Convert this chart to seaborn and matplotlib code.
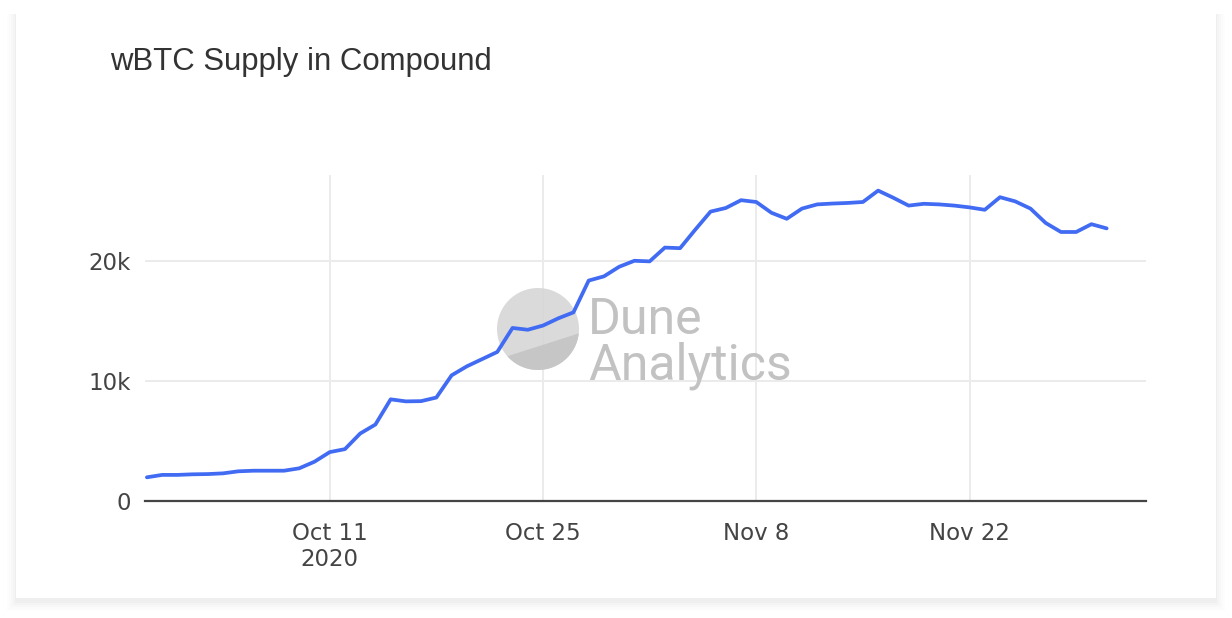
import matplotlib
matplotlib.use("Agg")
import matplotlib.pyplot as plt
from matplotlib.patches import Rectangle, Ellipse, Polygon
from matplotlib.ticker import FuncFormatter
import seaborn as sns
import pandas as pd

# daily wBTC supplied to Compound, thousands of BTC
dates = pd.date_range("2020-09-29", "2020-12-01", freq="D")
supply_k = [
    1.95, 2.15,
    2.15, 2.2, 2.22, 2.28, 2.45, 2.5, 2.5, 2.5, 2.7, 3.25,
    4.05, 4.3, 5.6, 6.35, 8.45, 8.28, 8.3, 8.6, 10.45, 11.2,
    11.8, 12.4, 14.4, 14.25, 14.6, 15.2, 15.7, 18.35, 18.7, 19.5,
    20.0,
    19.95, 21.1, 21.05, 22.6, 24.1, 24.4, 25.05, 24.9, 24.0, 23.5,
    24.35, 24.7, 24.77, 24.82, 24.9, 25.85, 25.25, 24.6, 24.75, 24.7,
    24.6, 24.45, 24.25, 25.3, 24.95, 24.35, 23.15, 22.4, 22.4, 23.05,
    22.7,
]
tick_dates = ["2020-10-11", "2020-10-25", "2020-11-08", "2020-11-22"]
tick_labels = ["Oct 11\n2020", "Oct 25", "Nov 8", "Nov 22"]
y_ticks = [0, 10000, 20000]

df = pd.DataFrame({"day": dates, "supply": [v * 1000 for v in supply_k]})

sns.set_theme(style="white")
plt.rcParams["font.family"] = ["DejaVu Sans"]

W, H = 1232, 618
fig = plt.figure(figsize=(W / 100, H / 100), dpi=100)
fig.patch.set_facecolor("white")

# card with soft shadow (mostly below)
for i, a in enumerate([0.02, 0.016, 0.012, 0.008, 0.006]):
    g = 1 + i * 2
    fig.patches.append(Rectangle(((16 - g) / W, 1 - (598 + g + 4) / H),
                                 (1200 + 2 * g) / W, (586 + g + 2) / H,
                                 transform=fig.transFigure, facecolor="black",
                                 alpha=a, edgecolor="none", zorder=-3))
fig.patches.append(Rectangle((16 / W, 1 - 598 / H), 1200 / W, 586 / H,
                             transform=fig.transFigure, facecolor="white",
                             edgecolor="none", zorder=-2))

ax = fig.add_axes([145 / W, 1 - 500.7 / H, (1146 - 145) / W, (500.7 - 175) / H])
ax.set_facecolor("none")

sns.lineplot(data=df, x="day", y="supply", ax=ax, color="#416bf2",
             linewidth=2.7, zorder=3)

ax.set_xlim(pd.Timestamp("2020-09-28 21:00"), pd.Timestamp("2020-12-03 14:00"))
ax.set_ylim(0, 27150)
ax.set_xticks(pd.to_datetime(tick_dates))
ax.set_xticklabels(tick_labels)
ax.set_yticks(y_ticks)
ax.yaxis.set_major_formatter(FuncFormatter(lambda v, p: "0" if v == 0 else f"{v/1000:.0f}k"))
ax.set_xlabel("")
ax.set_ylabel("")

ax.grid(True, color="#ebebeb", linewidth=1.4)
ax.set_axisbelow(True)
for s in ["top", "right", "left"]:
    ax.spines[s].set_visible(False)
ax.spines["bottom"].set_color("#444444")
ax.spines["bottom"].set_linewidth(1.6)
ax.spines["bottom"].set_zorder(4)
ax.tick_params(axis="both", length=0, labelsize=16.5, labelcolor="#444444")
ax.tick_params(axis="x", pad=15)
ax.tick_params(axis="y", pad=10)

# watermark
cx, cy, r = 538, 329, 41
circ = Ellipse((cx / W, 1 - cy / H), 2 * r / W, 2 * r / H, transform=fig.transFigure,
               facecolor="#d6d6d6", edgecolor="none", alpha=0.9, zorder=1.5)
ax.add_patch(circ)
circ.set_clip_path(None)
low = Polygon([(480 / W, 1 - 380 / H), (480 / W, 1 - 364 / H),
               (505 / W, 1 - 357 / H), (580 / W, 1 - 333 / H),
               (590 / W, 1 - 333 / H), (590 / W, 1 - 380 / H)],
              closed=True, transform=fig.transFigure, facecolor="#c4c4c4",
              edgecolor="none", alpha=0.9, zorder=1.6)
ax.add_patch(low)
low.set_clip_path(circ)
ax.text(588 / W, 1 - 334 / H, "Dune", transform=fig.transFigure,
        fontsize=36, color="#c2c2c2", family="Roboto", zorder=1.7)
ax.text(588 / W, 1 - 379 / H, "Analytics", transform=fig.transFigure,
        fontsize=36, color="#c2c2c2", family="Roboto", zorder=1.7)

fig.text(110 / W, 1 - 70 / H, "wBTC Supply in Compound", fontsize=22.4,
         color="#333333", family="Liberation Sans", va="baseline")

fig.savefig("out.png", dpi=100)
